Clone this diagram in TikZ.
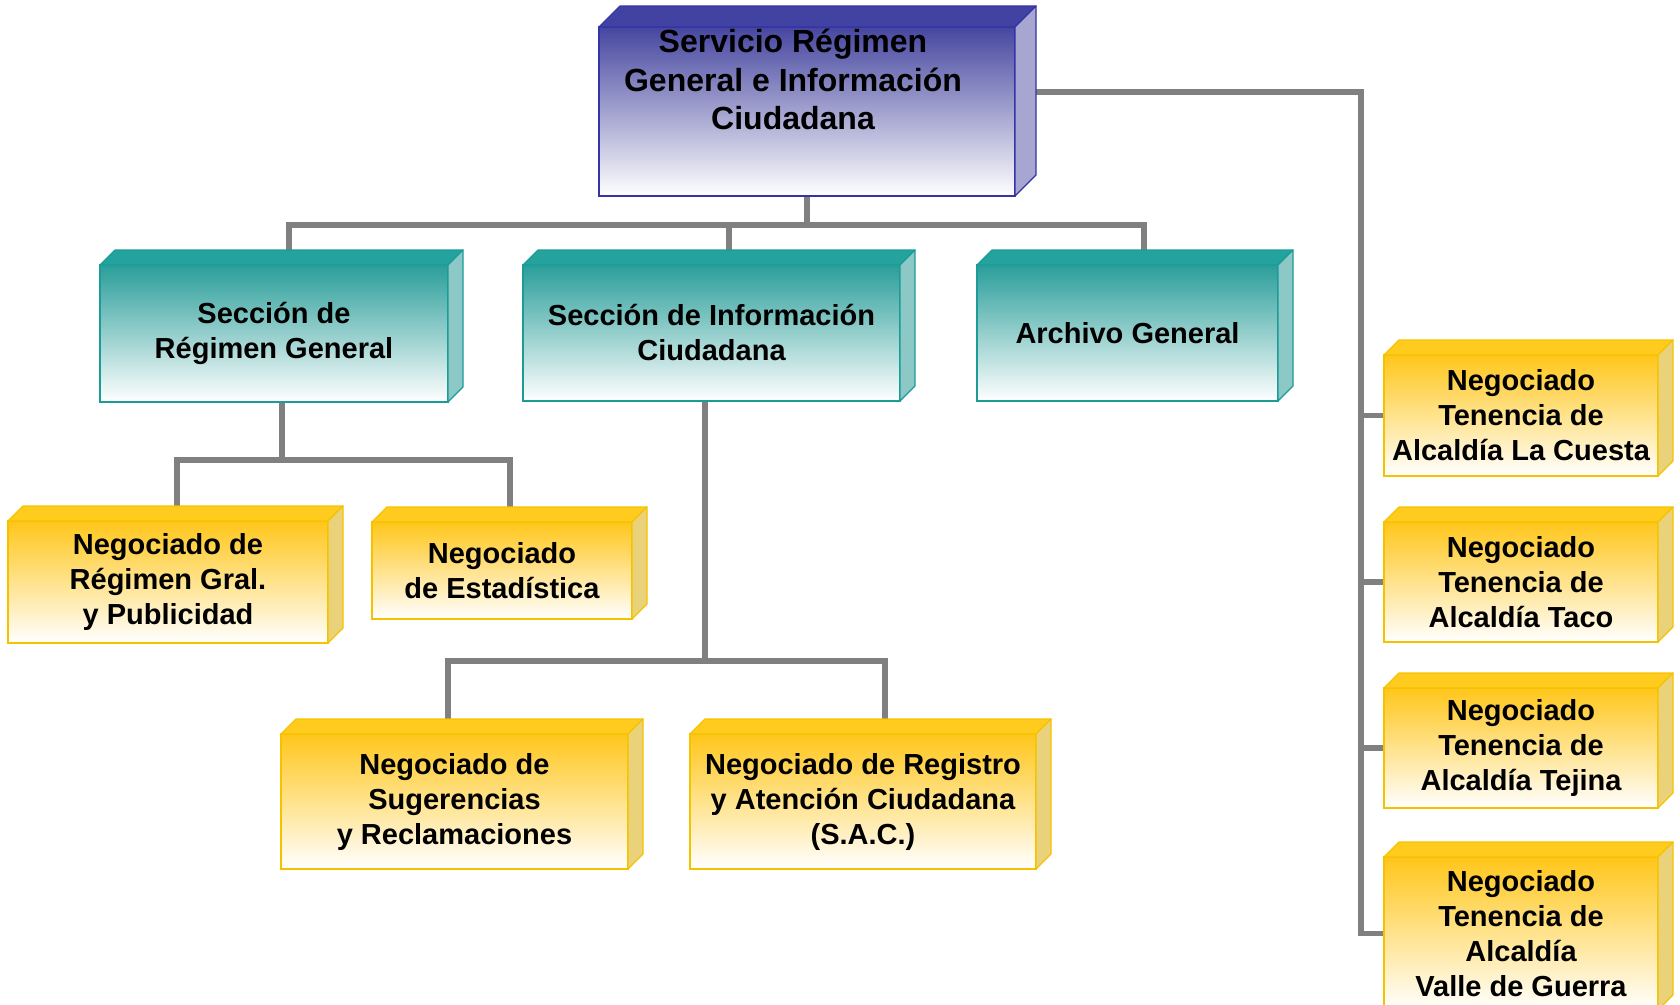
\documentclass[tikz,border=0pt]{standalone}
\usepackage{fontspec}
\setmainfont{Liberation Sans}
\usetikzlibrary{calc,backgrounds}
\definecolor{blueF}{HTML}{4646A0}
\definecolor{blueB}{HTML}{3434A8}
\definecolor{blueT}{HTML}{4242A2}
\definecolor{blueS}{HTML}{A6A6D0}
\definecolor{tealF}{HTML}{2A9E9A}
\definecolor{tealB}{HTML}{1B9C97}
\definecolor{tealT}{HTML}{24A29E}
\definecolor{tealS}{HTML}{8CC8C5}
\definecolor{yelF}{HTML}{FFC61A}
\definecolor{yelB}{HTML}{F5C200}
\definecolor{yelT}{HTML}{FFCB1F}
\definecolor{yelS}{HTML}{EAD27A}
\definecolor{lineG}{HTML}{808080}
\newcommand{\cubesides}[5]{% node, depth, top colour, side colour, border
  \filldraw[fill=#3, draw=#5, line width=1.2pt, line join=round]
    (#1.north west) -- ++(#2,-#2) -- ($(#1.north east)+(#2,-#2)$) -- (#1.north east) -- cycle;
  \filldraw[fill=#4, draw=#5, line width=1.2pt, line join=round]
    (#1.north east) -- ++(#2,-#2) -- ($(#1.south east)+(#2,-#2)$) -- (#1.south east) -- cycle;
}
\tikzset{
  cube/.style={inner sep=0pt, outer sep=0pt, line width=1.5pt, align=center,
    font=\fontsize{29}{35}\selectfont\bfseries},
  bluebox/.style={cube, draw=blueB, top color=blueF, bottom color=white},
  tealbox/.style={cube, draw=tealB, top color=tealF, bottom color=white},
  yelbox/.style={cube, draw=yelB, top color=yelF, bottom color=white},
  conn/.style={draw=lineG, line width=5.5pt},
  toptext/.style={align=center, font=\fontsize{32}{38.5}\selectfont\bfseries, inner sep=0pt}
}
\begin{document}
\begin{tikzpicture}[x=1pt,y=-1pt]
\begin{pgfonlayer}{background}
\fill[white] (0,0) rectangle (1680,1004);
\end{pgfonlayer}
\useasboundingbox (0,0) rectangle (1680,1004);

% top box
\node[bluebox, minimum width=416pt, minimum height=169pt] (top) at (807,111.5) {};
\cubesides{top}{21}{blueT}{blueS}{blueB}
\node[toptext] (toptxt) at ($(top.center)+(-14,-32)$) {Servicio Régimen\\General e Información\\Ciudadana};

% sections
\node[tealbox, minimum width=348pt, minimum height=137pt] (srg) at (274,333.5) {Sección de\\Régimen General};
\cubesides{srg}{15}{tealT}{tealS}{tealB}
\node[tealbox, minimum width=377pt, minimum height=136pt] (sic) at (711.5,333) {Sección de Información\\Ciudadana};
\cubesides{sic}{15}{tealT}{tealS}{tealB}
\node[tealbox, minimum width=301pt, minimum height=136pt] (arc) at (1127.5,333) {Archivo General};
\cubesides{arc}{15}{tealT}{tealS}{tealB}

% negociados
\node[yelbox, minimum width=320pt, minimum height=122pt] (nrg) at (168,582) {Negociado de\\Régimen Gral.\\y Publicidad};
\cubesides{nrg}{15}{yelT}{yelS}{yelB}
\node[yelbox, minimum width=260pt, minimum height=97pt] (nes) at (502,570.5) {Negociado\\de Estadística};
\cubesides{nes}{15}{yelT}{yelS}{yelB}
\node[yelbox, minimum width=347pt, minimum height=135pt] (nsr) at (454.5,801.5) {Negociado de\\Sugerencias\\y Reclamaciones};
\cubesides{nsr}{15}{yelT}{yelS}{yelB}
\node[yelbox, minimum width=346pt, minimum height=135pt] (nra) at (863,801.5) {Negociado de Registro\\y Atención Ciudadana\\(S.A.C.)};
\cubesides{nra}{15}{yelT}{yelS}{yelB}

% tenencias
\node[yelbox, minimum width=274pt, minimum height=121pt] (t1) at (1521,415.5) {Negociado\\Tenencia de\\Alcaldía La Cuesta};
\cubesides{t1}{15}{yelT}{yelS}{yelB}
\node[yelbox, minimum width=274pt, minimum height=120pt] (t2) at (1521,582) {Negociado\\Tenencia de\\Alcaldía Taco};
\cubesides{t2}{15}{yelT}{yelS}{yelB}
\node[yelbox, minimum width=274pt, minimum height=120pt] (t3) at (1521,748) {Negociado\\Tenencia de\\Alcaldía Tejina};
\cubesides{t3}{15}{yelT}{yelS}{yelB}
\node[yelbox, minimum width=274pt, minimum height=153pt] (t4) at (1521,933.5) {Negociado\\Tenencia de\\Alcaldía\\Valle de Guerra};
\cubesides{t4}{15}{yelT}{yelS}{yelB}

% connectors
\begin{pgfonlayer}{background}
\draw[conn] (top.south) -- ++(0,29) coordinate (b1);
\draw[conn] (b1) -| ($(srg.north)+(15,0)$);
\draw[conn] (b1) -| ($(sic.north)+(17.5,0)$);
\draw[conn] (b1) -| ($(arc.north)+(16.5,0)$);

\draw[conn] ($(srg.south)+(8,0)$) -- ++(0,58) coordinate (b2);
\draw[conn] (b2) -| ($(nrg.north)+(9,0)$);
\draw[conn] (b2) -| ($(nes.north)+(8,0)$);

\draw[conn] ($(sic.south)+(-6.5,0)$) -- ++(0,260) coordinate (b3);
\draw[conn] (b3) -| ($(nsr.north)+(-6.5,0)$);
\draw[conn] (b3) -| ($(nra.north)+(22,0)$);

\draw[conn] ($(top.east)+(0,-19.5)$) -| ($(t4.west)+(-23,0)$) -- (t4.west);
\draw[conn] (t1.west) -- ++(-23,0);
\draw[conn] (t2.west) -- ++(-23,0);
\draw[conn] (t3.west) -- ++(-23,0);
\end{pgfonlayer}
\end{tikzpicture}
\end{document}
